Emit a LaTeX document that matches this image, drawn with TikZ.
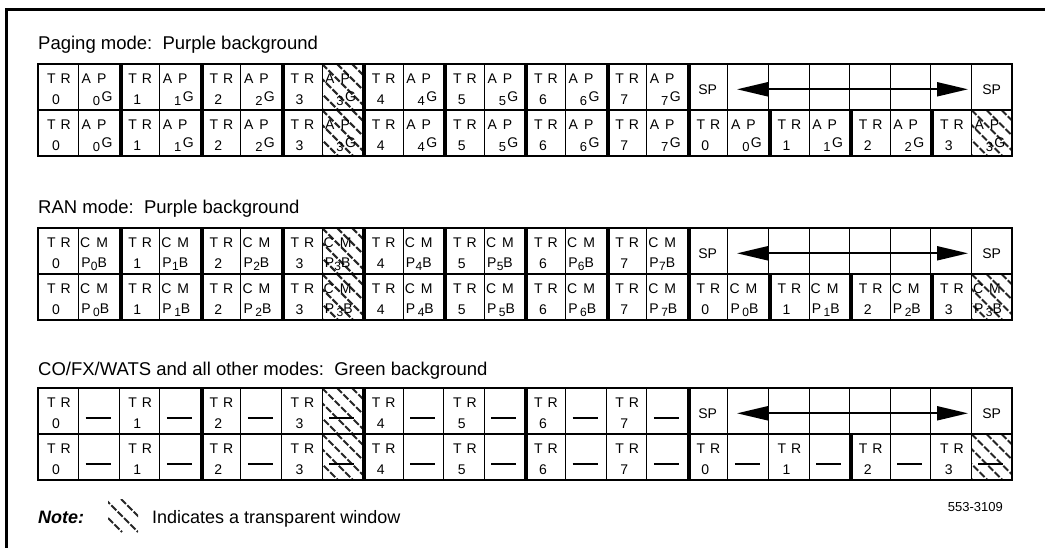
\documentclass[tikz,border=0pt]{standalone}
\usepackage{fontspec}
\setmainfont{Liberation Sans}
\usetikzlibrary{arrows.meta}
\newcommand{\Lx}{38}
\newcommand{\Rx}{1012}
\newcommand{\Cw}{40.5833}
\newcommand{\trcell}[5]{%
  \node[celltxt] (#1t) at ({#2+21},{#3+0.31*#4}) {T\hspace{5pt}R};
  \node[celltxt] (#1n) at ({#2+18},{#3+0.77*#4}) {#5};}
\newcommand{\apcell}[5]{%
  \node[celltxt] (#1t) at ({#2+15.5},{#3+0.31*#4}) {A\hspace{6pt}P};
  \node[subtxt] (#1n) at ({#2+18},{#3+0.81*#4}) {#5};
  \node[celltxt] (#1g) at ({#2+28.5},{#3+0.72*#4}) {G};}
\newcommand{\cmpcell}[6]{%
  \node[celltxt] (#1t) at ({#2+15.5},{#3+0.31*#4}) {C\hspace{6pt}M};
  \node[celltxt,anchor=base west] (#1n) at ({#2+2.5},{#3+0.76*#4+5}) {P\hspace{#6}\raisebox{-2.5pt}{\fontsize{12}{13}\selectfont #5}B};}
\newcommand{\codash}[4]{%
  \coordinate (#1l) at ({#2+7},{#3+0.66*#4});
  \coordinate (#1r) at ({#2+32},{#3+0.66*#4});
  \draw[dashmark] (#1l) -- (#1r);}
\newcommand{\hatchcell}[3]{%
  \begin{scope}
    \clip (#1,#2) rectangle ({#1+\Cw},{#2+#3});
    \foreach \hc in {-60,-45,...,45} \draw[hatch] ({#1+\hc},#2) -- ({#1+\hc+#3},{#2+#3});
  \end{scope}}
\newcommand{\secgrid}[2]{%
  \foreach \i in {1,...,23} \draw[gridline] ({\Lx+\i*\Cw},#1) -- ({\Lx+\i*\Cw},{#1+2*#2});
  \draw[gridline] (\Lx,{#1+#2}) -- (\Rx,{#1+#2});
  \draw[outline] (\Lx,#1) rectangle (\Rx,{#1+2*#2});}
\newcommand{\bars}[3]{%
  \foreach \i in {#3} \draw[thickbar] ({\Lx+\i*\Cw+1.5},{#1+0.6}) -- ({\Lx+\i*\Cw+1.5},{#1+#2-0.6});}
\newcommand{\arrowrow}[3]{% prefix, top, h
  \node[celltxt] (#1sp1) at ({\Lx+16.5*\Cw},{#2+0.55*#3}) {SP};
  \node[celltxt] (#1sp2) at ({\Lx+23.5*\Cw},{#2+0.55*#3}) {SP};
  \coordinate (#1al) at (737,{#2+0.55*#3});
  \coordinate (#1ar) at (968,{#2+0.55*#3});
  \draw[dblarrow] (#1al) -- (#1ar);}
\begin{document}
\begin{tikzpicture}[x=1pt,y=-1pt,
  gridline/.style={line width=1.1pt},
  outline/.style={line width=1.6pt},
  thickbar/.style={line width=3.8pt},
  frame/.style={line width=3pt},
  title/.style={anchor=base west,inner sep=0pt,font=\fontsize{18.5}{20}\selectfont},
  celltxt/.style={inner sep=0pt,font=\fontsize{14}{15}\selectfont},
  subtxt/.style={inner sep=0pt,font=\fontsize{13}{14}\selectfont},
  hatch/.style={line width=2pt,black!85,dash pattern=on 7pt off 2pt},
  dashmark/.style={line width=2pt},
  dblarrow/.style={line width=2pt,{Triangle[length=31pt,width=14pt]}-{Triangle[length=31pt,width=14pt]}},
  notetxt/.style={anchor=base west,inner sep=0pt,font=\fontsize{18}{20}\selectfont}]
\useasboundingbox (0,0) rectangle (1045,548);
\draw[frame] (6.5,548) -- (6.5,9.5) -- (1045,9.5);

% ---------------- Paging mode ----------------
\pgfmathsetmacro\Ta{64}\pgfmathsetmacro\Ha{46}\pgfmathsetmacro\Tb{\Ta+\Ha}
\node[title] (pgtitle) at (\Lx,50) {Paging mode:\ \ Purple background};
\hatchcell{\Lx+7*\Cw}{\Ta}{\Ha}
\hatchcell{\Lx+7*\Cw}{\Tb}{\Ha}
\hatchcell{\Lx+23*\Cw}{\Tb}{\Ha}
\secgrid{\Ta}{\Ha}
\bars{\Ta}{\Ha}{2,4,...,16}
\bars{\Tb}{\Ha}{2,4,...,22}
\foreach \k in {0,...,7}{
  \pgfmathsetmacro\xa{\Lx+2*\k*\Cw}\pgfmathsetmacro\xb{\Lx+(2*\k+1)*\Cw}
  \trcell{pa\k}{\xa}{\Ta}{\Ha}{\k}
  \apcell{pb\k}{\xb}{\Ta}{\Ha}{\k}}
\foreach \k in {0,...,11}{
  \pgfmathsetmacro\xa{\Lx+2*\k*\Cw}\pgfmathsetmacro\xb{\Lx+(2*\k+1)*\Cw}
  \pgfmathtruncatemacro\nn{mod(\k,8)}
  \trcell{pc\k}{\xa}{\Tb}{\Ha}{\nn}
  \apcell{pd\k}{\xb}{\Tb}{\Ha}{\nn}}
\arrowrow{pg}{\Ta}{\Ha}

% ---------------- RAN mode ----------------
\pgfmathsetmacro\Ta{228}\pgfmathsetmacro\Ha{46}\pgfmathsetmacro\Tb{\Ta+\Ha}
\node[title] (rantitle) at (\Lx,214) {RAN mode:\ \ Purple background};
\hatchcell{\Lx+7*\Cw}{\Ta}{\Ha}
\hatchcell{\Lx+7*\Cw}{\Tb}{\Ha}
\hatchcell{\Lx+23*\Cw}{\Tb}{\Ha}
\secgrid{\Ta}{\Ha}
\bars{\Ta}{\Ha}{2,4,...,16}
\bars{\Tb}{\Ha}{2,4,...,22}
\foreach \k in {0,...,7}{
  \pgfmathsetmacro\xa{\Lx+2*\k*\Cw}\pgfmathsetmacro\xb{\Lx+(2*\k+1)*\Cw}
  \trcell{ra\k}{\xa}{\Ta}{\Ha}{\k}
  \cmpcell{rb\k}{\xb}{\Ta}{\Ha}{\k}{0.3pt}}
\foreach \k in {0,...,11}{
  \pgfmathsetmacro\xa{\Lx+2*\k*\Cw}\pgfmathsetmacro\xb{\Lx+(2*\k+1)*\Cw}
  \pgfmathtruncatemacro\nn{mod(\k,8)}
  \trcell{rc\k}{\xa}{\Tb}{\Ha}{\nn}
  \cmpcell{rd\k}{\xb}{\Tb}{\Ha}{\nn}{2.5pt}}
\arrowrow{rn}{\Ta}{\Ha}

% ---------------- CO/FX/WATS ----------------
\pgfmathsetmacro\Ta{388}\pgfmathsetmacro\Ha{46}\pgfmathsetmacro\Tb{\Ta+\Ha}
\node[title] (cotitle) at (\Lx,375) {CO/FX/WATS and all other modes:\ \ Green background};
\hatchcell{\Lx+7*\Cw}{\Ta}{\Ha}
\hatchcell{\Lx+7*\Cw}{\Tb}{\Ha}
\hatchcell{\Lx+23*\Cw}{\Tb}{\Ha}
\secgrid{\Ta}{\Ha}
\bars{\Ta}{\Ha}{4,8,12,16}
\bars{\Tb}{\Ha}{4,8,12,16,20}
\foreach \k in {0,...,7}{
  \pgfmathsetmacro\xa{\Lx+2*\k*\Cw}\pgfmathsetmacro\xb{\Lx+(2*\k+1)*\Cw}
  \trcell{ca\k}{\xa}{\Ta}{\Ha}{\k}
  \codash{cb\k}{\xb}{\Ta}{\Ha}}
\foreach \k in {0,...,11}{
  \pgfmathsetmacro\xa{\Lx+2*\k*\Cw}\pgfmathsetmacro\xb{\Lx+(2*\k+1)*\Cw}
  \pgfmathtruncatemacro\nn{mod(\k,8)}
  \trcell{cc\k}{\xa}{\Tb}{\Ha}{\nn}
  \codash{cd\k}{\xb}{\Tb}{\Ha}}
\arrowrow{co}{\Ta}{\Ha}

% ---------------- Note ----------------
\node[notetxt] (notelbl) at (\Lx,523) {\textbf{\textit{Note:}}};
\begin{scope}
  \clip (108,499) rectangle (138,532);
  \foreach \hc in {-19,-3,13} \draw[hatch] ({108+\hc},499) -- ({108+\hc+33},532);
\end{scope}
\node[notetxt] (notetxt) at (152,523) {Indicates a transparent window};
\node[anchor=base east,inner sep=0pt,font=\fontsize{13}{14}\selectfont] (figno) at (1003,511) {553-3109};
\end{tikzpicture}
\end{document}
